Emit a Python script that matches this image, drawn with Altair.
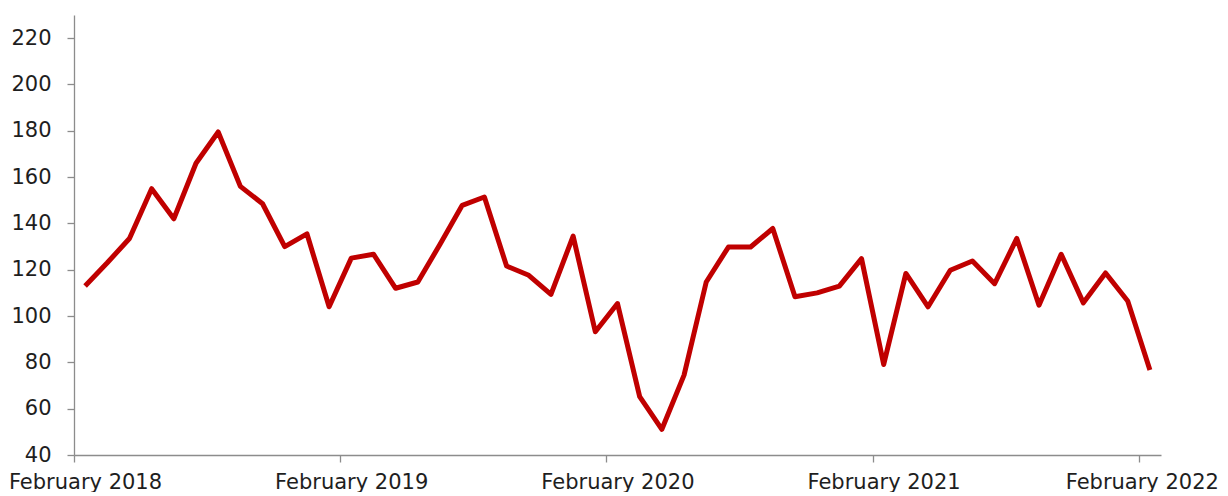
import json
import altair as alt
import pandas as pd

# Monthly values, February 2018 .. February 2022 (49 months)
values = [113, 123, 133.5, 155, 142, 166, 179.5, 156, 148.5, 130, 135.5, 104,
          125, 126.7, 112, 114.7, 131, 147.8, 151.4, 121.6, 117.6, 109.4, 134.5, 93.2,
          105.4, 65.2, 51.1, 74.5, 114.7, 129.8, 129.8, 137.8, 108.3, 110, 112.9, 124.8,
          79.1, 118.4, 104, 119.8, 123.8, 114, 133.5, 104.7, 126.7, 105.7, 118.6, 106.5,
          76.7]

tick_labels = ["February 2018", "February 2019", "February 2020",
               "February 2021", "February 2022"]
y_ticks = [40, 60, 80, 100, 120, 140, 160, 180, 200, 220]

n = len(values)
df = pd.DataFrame({"idx": list(range(n)), "value": values})

# ticks sit on the category boundary at the start of each February
x_tick_pos = [12 * k - 0.5 for k in range(len(tick_labels))]
label_expr = json.dumps(tick_labels) + "[round((datum.value + 0.5) / 12)]"
last_tick = x_tick_pos[-1]

FONT = "DejaVu Sans"
TEXT = "#1e1e1e"
AXIS = "#8c8c8c"

chart = alt.Chart(df).mark_line(
    color="#C00000", strokeWidth=5, strokeJoin="round"
).encode(
    x=alt.X("idx:Q",
            scale=alt.Scale(domain=[-0.5, n - 0.5], nice=False, zero=False),
            axis=alt.Axis(values=x_tick_pos, labelExpr=label_expr, title=None,
                          grid=False,
                          labelOffset={"condition": {"test": f"datum.value >= {last_tick}", "value": 3},
                                       "value": 11},
                          labelFlush=False,
                          labelOverlap=False, labelBound=False, tickSize=7,
                          labelPadding=9, labelFont=FONT, labelFontSize=21,
                          labelColor=TEXT, domainColor=AXIS, tickColor=AXIS,
                          domainWidth=1.3, tickWidth=1.3)),
    y=alt.Y("value:Q",
            scale=alt.Scale(domain=[40, 230], nice=False, zero=False),
            axis=alt.Axis(values=y_ticks, title=None, grid=False, tickSize=7,
                          labelPadding=16, labelFont=FONT, labelFontSize=21,
                          labelColor=TEXT, domainColor=AXIS, tickColor=AXIS,
                          domainWidth=1.3, tickWidth=1.3, labelFlush=False,
                          labelBound=False)),
).properties(
    width=1087, height=440,
    padding={"left": 66, "top": 7, "right": 59, "bottom": 37},
    autosize=alt.AutoSizeParams(type="none"),
).configure_view(stroke=None)

chart.save("out.html", embed_options={"renderer": "svg", "actions": False})
